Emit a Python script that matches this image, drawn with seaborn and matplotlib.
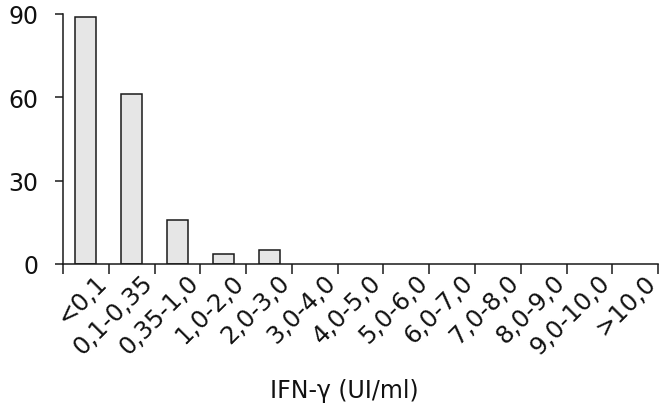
import numpy as np
import pandas as pd
import matplotlib
matplotlib.use('Agg')
import matplotlib.pyplot as plt
import matplotlib.transforms as mtransforms
import seaborn as sns

# data
categories = ['<0,1', '0,1-0,35', '0,35-1,0', '1,0-2,0', '2,0-3,0', '3,0-4,0', '4,0-5,0',
              '5,0-6,0', '6,0-7,0', '7,0-8,0', '8,0-9,0', '9,0-10,0', '>10,0']
counts = [89, 61, 16, 3.5, 5, 0, 0, 0, 0, 0, 0, 0, 0]
y_ticks = [0, 30, 60, 90]
x_label = 'IFN-\u03b3 (UI/ml)'

sns.set_style('white')
plt.rcParams['font.family'] = ['DejaVu Sans']
plt.rcParams['text.color'] = '#111111'
plt.rcParams['xtick.labelcolor'] = '#111111'
plt.rcParams['ytick.labelcolor'] = '#111111'

df = pd.DataFrame({'range': categories, 'n': counts})

fig = plt.figure(figsize=(6.62, 4.14), dpi=100)
ax = fig.add_axes([0.0952, 0.360, 0.899, 0.604])
sns.barplot(data=df, x='range', y='n', order=categories, color='#e6e6e6',
            edgecolor='#1a1a1a', linewidth=1.1, width=0.46, saturation=1, ax=ax)
# empty bins leave no mark
for p in ax.patches:
    if p.get_height() == 0:
        p.set_visible(False)

ax.set_xlim(-0.5, len(categories) - 0.5)
ax.set_ylim(0, 90)
sns.despine(ax=ax)
for side in ['left', 'bottom']:
    ax.spines[side].set_color('#1a1a1a')
    ax.spines[side].set_linewidth(1.1)

# y axis
ax.set_yticks(y_ticks)
ax.tick_params(axis='y', direction='out', length=6, width=1.1, pad=12,
               labelsize=17, left=True, color='#1a1a1a')

# x axis: ticks at the bin borders, labels at the bin centres
ax.set_xticks(np.arange(-0.5, len(categories), 1.0))
ax.set_xticklabels([])
ax.set_xticks(np.arange(len(categories)), minor=True)
ax.set_xticklabels(categories, minor=True, rotation=45, ha='right', va='center',
                   rotation_mode='anchor', fontsize=17.5)
ax.tick_params(axis='x', which='major', direction='out', length=7, width=1.1,
               bottom=True, color='#1a1a1a')
ax.tick_params(axis='x', which='minor', length=0, pad=10)
shift = mtransforms.ScaledTranslation(17 / 100, 0, fig.dpi_scale_trans)
for lab in ax.get_xticklabels(minor=True):
    lab.set_transform(lab.get_transform() + shift)

ax.set_xlabel('')
ax.set_ylabel('')
fig.text(0.52, 0.055, x_label, ha='center', va='center', fontsize=17)

fig.savefig('out.png', dpi=100)
